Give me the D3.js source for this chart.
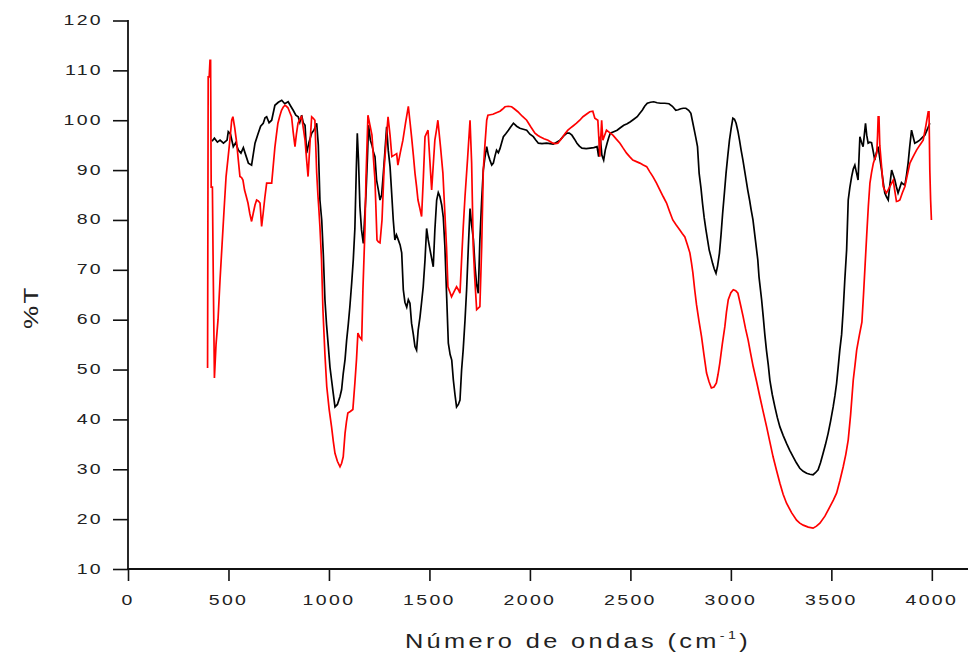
<!DOCTYPE html>
<html>
<head>
<meta charset="utf-8">
<script src="https://cdn.jsdelivr.net/npm/d3@7/dist/d3.min.js"></script>
<style>
  html, body { margin: 0; padding: 0; background: #fff; }
  svg { display: block; }
  text { font-family: "Liberation Sans", Arial, sans-serif; fill: #222; }
</style>
</head>
<body>
<div id="chart"></div>
<script>
// ---- Data (wavenumber cm^-1, %T) ----
const xTickValues = [0, 500, 1000, 1500, 2000, 2500, 3000, 3500, 4000];
const yTickValues = [10, 20, 30, 40, 50, 60, 70, 80, 90, 100, 110, 120];
const xLabel = "Número de ondas (cm";
const yLabel = "%T";

const blackSeries = [
  [418,95.8],[430,96.4],[445,95.6],[458,96],[475,95.4],[493,96],[499,97.7],[510,97.2],[524,94.7],[536,95.5],[549,94],[562,93.4],[574,94.5],[586,93],[599,91.4],[615,91],
  [632,95.4],[648,97.4],[660,98.8],[673,99.4],[682,100.5],[690,100.7],[702,99.5],[715,100],[731,103],[748,103.6],[765,104],[780,103.3],[797,103.7],
  [810,102.8],[822,102],[835,101],[847,100.7],[855,99.6],[864,101],[872,99.5],[881,99],[889,93.4],[900,95.5],[914,97.4],[925,98],[939,99.4],[947,95],
  [955,84],[964,80],[972,73],[980,64],[988,59],[997,54.6],[1005,50.5],[1013,47.9],[1022,45],[1030,42.5],[1042,43],[1055,44.6],[1063,46],[1071,49.2],
  [1080,52],[1088,55.9],[1096,59],[1104,62.6],[1113,67.3],[1121,72],[1129,78.3],[1136,90],[1141,97.4],[1147,92],[1154,82.7],[1162,78],[1171,75.3],
  [1177,80],[1184,85],[1191,92],[1197,99],[1206,96],[1214,95],[1222,93.5],[1229,92.7],[1237,88],[1246,86],[1254,84],[1262,85],[1270,89],[1279,94],
  [1287,98.7],[1295,94],[1304,90.7],[1312,85.4],[1320,80],[1328,76],[1336,77],[1345,76],[1354,75],[1362,73.4],[1370,66],[1378,63.5],[1387,62.5],
  [1395,64],[1403,63.3],[1411,59.3],[1420,57],[1428,54.6],[1436,53.9],[1444,57.9],[1453,60.5],[1461,63.5],[1469,66.6],[1478,72],[1486,78.3],[1494,76],
  [1503,74],[1511,72.3],[1519,70.6],[1527,78],[1536,84],[1544,85.5],[1552,84.7],[1561,83],[1569,80.5],[1577,74.6],[1586,64.3],[1594,55.3],[1603,53],
  [1611,51.9],[1619,47.9],[1627,45],[1635,42.5],[1644,43],[1652,43.9],[1660,49.9],[1668,54],[1677,59.9],[1685,66],[1694,75],[1702,82.3],[1710,79],
  [1719,76],[1727,70.6],[1735,67],[1743,65.3],[1751,76],[1760,84],[1768,90],[1776,92.5],[1785,94.7],[1793,93],[1801,92],[1810,91],[1818,91.4],
  [1826,92.8],[1834,94],[1843,93.5],[1851,94.3],[1860,95.6],[1868,96.7],[1880,97.3],[1893,98],[1905,98.7],[1918,99.4],[1934,98.8],[1950,98.4],
  [1967,98.2],[1984,98],[2000,97.2],[2017,96.7],[2030,96],[2042,95.4],[2060,95.3],[2083,95.4],[2100,95.3],[2116,95.2],[2133,95.6],[2150,96],
  [2167,96.8],[2184,97.4],[2196,97.4],[2209,97],[2222,96.2],[2234,95.4],[2246,94.8],[2259,94.4],[2280,94.3],[2300,94.4],[2318,94.5],[2334,94.7],
  [2342,92.7],[2350,96.7],[2358,93],[2367,92],[2375,94],[2384,95.4],[2392,96.5],[2400,97.4],[2417,97.7],[2434,98],[2450,98.5],[2467,99],[2484,99.3],
  [2500,99.7],[2517,100.2],[2534,100.7],[2547,101.4],[2559,102],[2571,102.8],[2584,103.4],[2600,103.6],[2616,103.7],[2633,103.5],[2650,103.4],
  [2671,103.4],[2692,103.3],[2709,102.8],[2726,102],[2738,102.1],[2751,102.3],[2763,102.4],[2776,102.4],[2790,102],[2801,101.4],[2810,99.6],
  [2818,98],[2826,96.4],[2834,94.7],[2842,89.4],[2851,86.5],[2859,83.3],[2867,80.5],[2876,78],[2884,76],[2892,74],[2901,72.6],[2909,71.3],
  [2917,70.2],[2926,69.3],[2934,70.8],[2943,73.3],[2951,77],[2959,81.3],[2968,85.5],[2976,89.4],[2985,93],[2993,96],[3002,98.5],[3010,100.4],
  [3018,100.2],[3026,99.4],[3035,97.8],[3043,96],[3051,94],[3060,92],[3068,90],[3076,88],[3084,86],[3093,84],[3101,82],[3110,80],[3122,76],
  [3134,72],[3140,68.6],[3153,64],[3161,60.6],[3169,57],[3177,53.9],[3186,51],[3194,47.9],[3206,45],[3219,42.5],[3231,40.4],[3244,38.5],
  [3260,36.8],[3277,35.2],[3293,33.8],[3310,32.5],[3326,31.3],[3343,30.2],[3360,29.6],[3377,29.2],[3393,29],[3409,28.9],[3421,29.3],[3434,29.9],
  [3446,31.3],[3459,33.2],[3471,35],[3484,37.2],[3496,39.6],[3509,42.5],[3518,44.8],[3526,47.2],[3534,50.5],[3542,53.9],[3551,57],[3559,62],
  [3567,68],[3576,74],[3584,84],[3592,86.5],[3601,88.7],[3609,90.2],[3617,91],[3625,89.5],[3633,88],[3642,96.7],[3650,95.6],[3658,94.7],
  [3664,97],[3670,99.4],[3676,97],[3683,95.4],[3691,95.6],[3700,95.5],[3708,93.8],[3716,92],[3724,93.5],[3733,94.7],[3741,92.4],[3750,90],
  [3758,87.6],[3766,85.4],[3775,84.6],[3783,84],[3791,87],[3800,90],[3808,89],[3816,88],[3824,86.6],[3832,85.4],[3841,86.5],[3849,87.5],
  [3857,87.2],[3866,87],[3874,89],[3882,91.4],[3890,94.7],[3899,98],[3907,96.7],[3915,95.4],[3928,95.7],[3940,96],[3952,96.5],[3965,97],
  [3978,98.2],[3990,99.4]
];

const redSeries = [
  [396,50.3],[399,108.7],[404,108.7],[408,112],[411,112],[414,86.6],[420,86.6],[424,70],[430,48.3],[438,55],[448,60],[458,68],[468,75],
  [478,82],[488,88.7],[498,92.5],[507,96],[516,100],[522,100.7],[531,98.5],[541,95.4],[549,92],[557,88.7],[565,88.5],[572,88],[580,86],
  [588,84.8],[597,83.4],[606,81.3],[615,79.7],[624,81.5],[632,83],[640,84],[648,83.8],[657,83.4],[665,78.7],[673,81.5],[681,84.5],[690,87.4],
  [702,87.4],[715,87.4],[723,91],[731,94.6],[739,97.2],[746,99.4],[755,100.8],[764,102],[772,102.6],[781,103],[788,102.8],[796,102.5],
  [805,101.6],[814,100.7],[822,97.6],[831,94.7],[838,97.2],[846,99.4],[855,100.2],[864,100.7],[872,98.5],[881,96],[889,92],[896,88.7],
  [905,95],[914,100.7],[922,100.4],[930,100],[939,89.4],[945,85],[950,82],[955,78.7],[963,72],[970,62],[980,53],[989,46.6],[1001,42],
  [1013,38.5],[1022,35.5],[1030,33.2],[1042,31.6],[1055,30.5],[1063,31.2],[1071,32.5],[1080,37.2],[1087,39.5],[1094,41.3],[1106,41.6],
  [1119,42],[1129,47.3],[1137,52],[1144,57.3],[1153,56.5],[1163,56],[1169,66],[1179,78],[1184,88],[1194,101],[1204,99],[1214,97],[1222,92],
  [1229,88],[1239,76],[1246,75.6],[1254,75.4],[1264,80],[1274,90],[1284,95.5],[1294,100.7],[1304,97],[1313,92.7],[1325,93],[1337,93.3],
  [1343,91],[1355,93.5],[1368,96],[1381,99.4],[1395,102.8],[1403,99.8],[1411,96.7],[1420,93],[1428,89.4],[1436,86.7],[1443,84],[1452,82.4],
  [1461,80.7],[1470,88.7],[1478,96.7],[1486,97.4],[1493,98],[1502,92],[1511,86],[1519,91],[1527,96],[1535,98],[1542,100],[1555,94.7],
  [1567,89.4],[1576,82],[1585,74.6],[1592,66.6],[1601,65.6],[1610,64.6],[1622,65.6],[1635,66.6],[1644,66],[1652,65.3],[1660,72],[1668,78.4],
  [1677,84.7],[1690,92.4],[1702,100],[1710,91.4],[1718,74.6],[1726,68],[1735,62],[1743,62.3],[1751,62.6],[1760,74.6],[1768,90],[1776,95],
  [1785,100],[1791,101],[1803,101.1],[1816,101.2],[1833,101.5],[1851,101.8],[1863,102.2],[1876,102.7],[1892,102.8],[1909,102.7],[1925,102.2],
  [1940,101.7],[1962,100.8],[1984,100],[2004,98.7],[2025,97.4],[2038,97],[2050,96.7],[2070,96.3],[2090,96],[2102,95.7],[2114,95.4],
  [2127,95.3],[2139,95.4],[2151,96],[2164,96.7],[2176,97.4],[2189,98],[2210,98.7],[2232,99.4],[2248,100],[2264,100.7],[2281,101.2],
  [2298,101.7],[2313,101.8],[2323,100.4],[2338,100],[2348,92.7],[2357,100],[2363,96],[2372,97],[2381,98],[2397,97.5],[2413,97],[2430,96.2],
  [2448,95.4],[2464,94.4],[2481,93.4],[2496,92.7],[2512,92],[2530,91.7],[2547,91.4],[2564,91],[2581,90.7],[2596,89.7],[2612,88.7],[2630,87.4],
  [2647,86],[2663,84.7],[2680,83.4],[2695,81.7],[2711,80],[2728,79],[2746,78],[2758,77.3],[2771,76.6],[2784,75],[2796,73.4],[2804,71.4],
  [2811,69.4],[2820,66],[2829,63],[2841,59.8],[2854,56.6],[2866,53],[2879,49.3],[2891,47.6],[2903,46.3],[2916,46.5],[2928,47.3],[2936,49],
  [2945,51.3],[2957,55],[2970,58.6],[2978,61.5],[2987,64],[3000,65.4],[3012,66],[3024,65.8],[3035,65.3],[3048,63],[3061,60.6],[3073,58.2],
  [3086,55.9],[3098,53.3],[3111,50.6],[3128,47.6],[3144,44.6],[3161,41.5],[3178,38.5],[3194,35.5],[3210,32.5],[3227,29.8],[3244,27.2],
  [3260,25],[3277,23.2],[3302,21.3],[3327,19.8],[3343,19.2],[3360,18.8],[3385,18.4],[3409,18.2],[3426,18.6],[3443,19.2],[3468,20.6],
  [3493,22.5],[3510,23.8],[3526,25.2],[3543,27.8],[3559,30.5],[3572,33],[3584,35.9],[3596,41],[3609,47.9],[3618,51],[3626,53.9],[3639,56.8],
  [3652,59.5],[3660,65],[3668,71],[3676,77],[3684,82.7],[3692,87.4],[3700,89.5],[3709,91.4],[3718,92.5],[3726,93.4],[3730,97],[3733,100.7],
  [3737,100.7],[3741,95],[3750,90.7],[3758,86.7],[3766,86],[3774,85.4],[3782,86],[3791,86.7],[3800,87.4],[3808,88],[3816,85.8],[3824,83.7],
  [3832,83.8],[3841,84],[3853,85.4],[3866,86.7],[3878,89],[3891,91.4],[3907,92.7],[3924,94],[3940,95],[3957,96],[3970,98.8],[3982,101.7],
  [3986,101.7],[3990,90],[3994,84],[3998,80]
];

// ---- Layout ----
const W = 969, H = 660;
const svg = d3.select("#chart").append("svg").attr("width", W).attr("height", H);

const x = d3.scaleLinear().domain([0, 4180]).range([128, 968]);
const y = d3.scaleLinear().domain([10, 120]).range([569, 20.5]);

const xMinor = d3.range(0, 4001, 250);
const yMinor = d3.range(10, 121, 5);

// minor ticks
const gx = svg.append("g").attr("transform", `translate(0,${y(10)})`);
gx.call(d3.axisBottom(x).tickValues(xMinor).tickSize(7).tickFormat(""))
  .call(g => g.select(".domain").remove());
gx.call(d3.axisBottom(x).tickValues(xTickValues).tickSize(12).tickFormat(""))
  .call(g => g.select(".domain").remove());
gx.selectAll("line").attr("stroke", "#111").attr("stroke-width", 1.6);
gx.append("line").attr("x1", 127).attr("x2", 968).attr("y1", 0).attr("y2", 0)
  .attr("stroke", "#111").attr("stroke-width", 1.8);

const gy = svg.append("g").attr("transform", `translate(${x(0)},0)`);
gy.call(d3.axisLeft(y).tickValues(yMinor).tickSize(8).tickFormat(""))
  .call(g => g.select(".domain").remove());
gy.call(d3.axisLeft(y).tickValues(yTickValues).tickSize(15).tickFormat(""))
  .call(g => g.select(".domain").remove());
gy.selectAll("line").attr("stroke", "#111").attr("stroke-width", 1.6);
gy.append("line").attr("x1", 0).attr("x2", 0).attr("y1", y(120) - 0.5).attr("y2", y(10) + 1)
  .attr("stroke", "#111").attr("stroke-width", 1.8);

// tick labels (wide, spaced digits)
svg.append("g").selectAll("text").data(xTickValues).join("text")
  .attr("transform", d => `translate(${x(d)},605) scale(1.3,1)`)
  .attr("text-anchor", "middle")
  .attr("font-size", 15)
  .attr("letter-spacing", "1.8px")
  .text(d => d);

svg.append("g").selectAll("text").data(yTickValues).join("text")
  .attr("transform", d => `translate(103,${y(d) + 4.5}) scale(1.3,1)`)
  .attr("text-anchor", "end")
  .attr("font-size", 15)
  .attr("letter-spacing", "1.8px")
  .text(d => d);

// axis titles
const xt = svg.append("text")
  .attr("transform", "translate(578,648) scale(1.3,1)")
  .attr("text-anchor", "middle")
  .attr("font-size", 19.5)
  .attr("letter-spacing", "2.6px");
xt.append("tspan").text(xLabel);
xt.append("tspan").attr("font-size", 11).attr("dy", -9).text("-1");
xt.append("tspan").attr("dy", 9).text(")");

svg.append("text")
  .attr("transform", "translate(38,307) rotate(-90) scale(1.3,1)")
  .attr("text-anchor", "middle")
  .attr("font-size", 20)
  .attr("letter-spacing", "2px")
  .text(yLabel);

// lines
const line = d3.line().x(d => x(d[0])).y(d => y(d[1])).curveLinear;
const lineGen = d3.line().x(d => x(d[0])).y(d => y(d[1]));

svg.append("path").datum(blackSeries)
  .attr("d", lineGen).attr("fill", "none")
  .attr("stroke", "#000").attr("stroke-width", 1.7).attr("stroke-linejoin", "miter");

svg.append("path").datum(redSeries)
  .attr("d", lineGen).attr("fill", "none")
  .attr("stroke", "#ff0000").attr("stroke-width", 1.7).attr("stroke-linejoin", "miter");
</script>
</body>
</html>
